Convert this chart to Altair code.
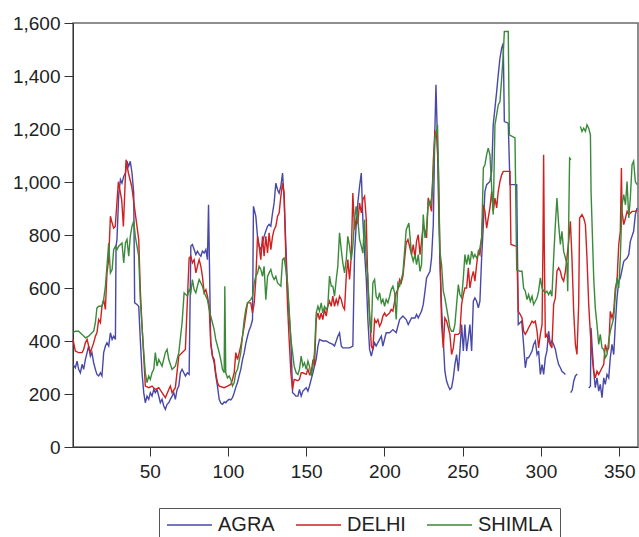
import altair as alt
import pandas as pd

cities = ["AGRA", "DELHI", "SHIMLA"]
colors = ["#4848a8", "#d02020", "#3a8a3a"]
x_ticks = [50, 100, 150, 200, 250, 300, 350]
y_ticks = [0, 200, 400, 600, 800, 1000, 1200, 1400, 1600]

# None marks a break in the series (missing observations)
agra_day = [1.0, 2.5, 3.6, 4.6, 5.7, 6.8, 7.8, 8.9, 10.0, 11.0, 12.1, 13.1, 14.2, 15.3, 16.3, 17.4, 18.5, 19.5,
            20.6, 21.7, 22.7, 23.8, 24.9, 26.0, 27.0, 28.1, 28.5, 29.1, 30.2, 31.3, 32.3, 33.4, 34.5, 35.5, 36.6,
            37.6, 38.7, 39.8, 40.4, 41.9, 43.0, 44.0, 45.1, 46.2, 47.2, 48.3, 49.4, 50.4, 51.5, 52.6, 53.6, 54.7,
            55.8, 56.8, 57.9, 59.0, 60.0, 61.1, 62.2, 63.2, 64.3, 65.4, 66.4, 67.5, 68.6, 69.6, 70.7, 71.8, 72.8,
            74.1, 75.2, 76.3, 77.3, 78.4, 79.5, 80.5, 81.6, 82.7, 83.7, 84.8, 85.9, 86.9, 87.6, 88.6, 89.0, 90.1,
            91.2, 92.2, 93.3, 94.4, 95.5, 96.5, 97.6, 98.6, 99.7, 100.8, 101.8, 102.9, 104.0, 105.0, 106.1, 107.2,
            108.2, 109.3, 110.4, 111.4, 112.5, 113.5, 114.6, 115.7, 116.3, 117.8, 118.9, 119.9, 121.0, 122.1, 123.1,
            124.2, 125.3, 126.3, 127.4, 128.5, 129.5, 130.6, 131.7, 132.7, 133.8, 134.9, 135.9, 137.0, 138.1, 139.1,
            140.2, 141.3, 142.3, 143.4, 144.7, 145.7, 146.8, 147.9, 148.9, 150.0, 151.1, 152.1, 153.2, 154.3, 155.3,
            156.4, 157.5, 158.5, 160.6, 162.8, 164.9, 167.0, 168.1, 169.2, 170.2, 171.3, 172.4, 173.4, 175.6, 177.7,
            179.8, 180.9, 181.9, 183.0, 184.1, 185.2, 186.2, 187.3, 188.4, 189.4, 190.5, 191.6, 192.6, 193.7, 194.7,
            196.9, 198.0, 199.0, 201.1, 203.3, 205.4, 207.5, 209.7, 211.8, 213.9, 215.2, 217.3, 219.5, 220.5, 221.6,
            223.7, 224.8, 225.9, 226.9, 229.1, 230.1, 231.2, 232.2, 232.9, 233.7, 234.4, 235.4, 236.5, 237.6, 238.6,
            239.7, 240.8, 241.8, 242.9, 244.0, 245.0, 246.1, 247.2, 248.2, 249.3, 250.4, 251.4, 252.5, 253.6, 254.6,
            255.7, 256.8, 257.8, 258.9, 260.0, 261.0, 262.1, 263.2, 264.2, 265.3, 267.4, 268.5, 269.5, 270.6, 271.7,
            272.7, 273.8, 274.9, 275.9, 276.6, 279.1, 280.2, 284.5, 285.5, 287.7, 288.9, 290.0, 291.1, 292.1, 293.2,
            294.3, 295.3, 296.4, 297.5, 298.5, 299.6, 300.7, 301.7, 302.8, 303.8, 304.9, 306.0, 307.0, 308.1, 309.2,
            310.2, 311.3, 312.4, 313.4, 314.5, 315.6, None, 319.0, 320.0, 321.0, 322.0, 323.2, None, 330.5, 331.6,
            332.0, 332.6, 333.7, 334.7, 335.8, 336.9, 337.9, 339.0, 340.1, 341.1, 342.2, 343.3, 344.3, 345.4, 346.5,
            347.5, 348.6, 349.7, 350.7, 352.9, 355.0, 356.1, 357.1, 359.2, 360.3, 361.4]
agra_val = [312, 299, 324, 293, 280, 312, 293, 330, 356, 381, 343, 356, 318, 293, 274, 268, 280, 268,
            356, 381, 393, 381, 431, 406, 418, 406, 757, 783, 950, 1009, 996, 1021, 1034, 1078, 1059,
            1078, 1034, 958, 544, 538, 531, 406, 280, 205, 167, 192, 180, 205, 192, 217, 205, 217,
            192, 167, 180, 155, 142, 161, 167, 180, 192, 205, 180, 217, 230, 280, 293, 280, 268,
            280, 274, 758, 764, 745, 726, 739, 728, 720, 739, 732, 745, 707, 914, 531, 393, 343,
            318, 270, 230, 180, 165, 161, 170, 167, 175, 180, 178, 186, 205, 225, 243, 270,
            293, 330, 356, 390, 418, 440, 456, 481, 908, 871, 795, 758, 745, 770, 795,
            815, 833, 840, 833, 883, 921, 996, 971, 958, 984, 1034, 933, 760, 594, 500,
            406, 205, 200, 192, 192, 217, 192, 211, 217, 224, 211, 230, 255, 280, 305,
            331, 381, 406, 400, 400, 393, 387, 381, 400, 418, 431, 381, 374, 374, 374,
            381, 732, 833, 921, 984, 1034, 858, 732, 632, 481, 368, 343, 368, 393, 381,
            406, 418, 381, 431, 431, 443, 431, 481, 494, 481, 462, 487, 487, 500, 487,
            513, 538, 588, 638, 663, 714, 839, 1191, 1367, 1191, 965, 714, 525, 400, 286,
            249, 230, 217, 224, 261, 311, 349, 286, 362, 462, 362, 462, 362, 412, 462,
            362, 550, 563, 550, 525, 550, 714, 839, 965, 990, 1002, 1040, 1216, 1279, 1341,
            1404, 1467, 1505, 1524, 1228, 1222, 990, 990, 462, 475, 387, 299, 337, 337, 349,
            362, 387, 400, 349, 362, 274, 311, 274, 337, 362, 437, 387, 400, 387, 368,
            337, 311, 299, 286, 280, 274, None, 205, 215, 250, 268, 276, None, 223, 229,
            450, 387, 286, 224, 261, 211, 236, 186, 261, 236, 274, 261, 337, 387, 349,
            462, 563, 626, 638, 701, 713, 726, 776, 814, 877, 902]

delhi_day = [1.0, 2.5, 4.6, 6.8, 7.8, 8.9, 10.0, 11.0, 12.1, 13.1, 14.2, 15.3, 16.3, 17.4, 18.5, 19.5, 20.6,
             21.7, 22.7, 23.8, 24.9, 26.0, 27.0, 28.0, 30.0, 32.1, 33.2, 34.9, 36.4, 38.5, 40.6, 43.0, 44.0,
             45.1, 46.2, 47.2, 49.4, 51.5, 53.6, 55.8, 57.9, 60.0, 62.2, 63.2, 64.3, 66.4, 68.6, 70.7, 72.8,
             74.1, 75.2, 76.3, 77.3, 78.4, 79.5, 80.5, 81.6, 82.7, 83.7, 84.8, 85.9, 86.9, 88.0, 89.0, 90.1,
             91.2, 92.2, 93.3, 94.4, 97.6, 99.7, 101.8, 102.9, 104.0, 105.0, 106.1, 107.2, 108.2, 110.4, 112.5,
             114.6, 115.7, 116.8, 117.8, 118.9, 119.9, 121.0, 122.1, 123.1, 124.2, 125.3, 126.3, 127.4, 128.5,
             129.5, 130.6, 131.7, 132.7, 133.8, 134.9, 135.9, 137.0, 138.1, 139.1, 140.2, 141.3, 142.3, 144.6,
             145.7, 146.8, 147.9, 150.0, 151.1, 152.1, 153.2, 154.3, 155.3, 156.4, 157.5, 158.5, 159.6, 160.6,
             161.7, 162.8, 163.8, 164.9, 166.0, 167.0, 168.1, 169.2, 170.2, 171.3, 172.4, 173.4, 174.5, 175.6,
             176.6, 177.7, 178.8, 179.8, 180.9, 181.9, 183.0, 184.1, 185.2, 186.2, 187.3, 188.4, 189.4, 190.5,
             191.6, 192.6, 193.7, 194.7, 195.8, 196.9, 198.0, 199.0, 200.1, 201.1, 203.3, 204.3, 205.4, 206.5,
             207.5, 208.6, 209.7, 210.7, 211.8, 213.9, 215.0, 216.3, 217.3, 218.4, 219.5, 220.5, 221.6, 222.7,
             223.7, 224.8, 225.9, 226.9, 228.0, 229.1, 230.1, 231.2, 232.2, 233.3, 234.4, 235.4, 236.5, 237.6,
             238.6, 239.7, 240.8, 241.8, 242.9, 244.0, 245.0, 247.2, 248.2, 249.3, 250.4, 251.4, 252.5, 253.6,
             254.6, 255.7, 256.8, 257.8, 258.9, 260.0, 261.0, 262.1, 263.2, 264.2, 265.3, 266.3, 267.4, 268.5,
             269.5, 270.6, 271.7, 272.7, 273.8, 274.9, 275.9, 280.2, 280.8, 284.5, 285.5, 286.8, 287.9, 288.9,
             290.0, 291.1, 292.1, 293.2, 294.3, 295.3, 296.4, 297.5, 298.5, 299.6, 300.7, 301.3, 301.7, 302.1,
             302.8, 303.8, 304.9, 306.0, 307.0, 308.1, 309.2, 310.2, 311.3, 312.4, 313.4, 314.5, 315.6, 316.6,
             317.7, 318.8, 319.8, 320.9, 322.0, 323.0, 324.1, 324.7, 326.2, 327.3, 328.4, 329.4, 330.5, 331.6,
             332.6, 333.7, 334.7, 335.8, 336.9, 337.9, 339.0, 340.1, 341.1, 342.2, 343.3, 344.3, 345.4, 346.5,
             347.5, 348.6, 349.7, 350.7, 351.4, 351.8, 352.9, 354.0, 355.0, 356.1, 358.2, 360.3, 361.4]
delhi_val = [406, 362, 356, 356, 368, 393, 406, 381, 356, 374, 393, 418, 431, 481, 469, 531, 556,
             519, 657, 707, 871, 845, 826, 832, 1001, 933, 832, 1084, 1034, 984, 890, 783, 594,
             456, 343, 230, 224, 230, 217, 224, 205, 186, 217, 230, 205, 224, 343, 356, 368,
             556, 713, 720, 695, 707, 657, 682, 707, 682, 644, 582, 594, 569, 531, 393, 343,
             330, 280, 243, 230, 224, 230, 236, 255, 280, 356, 330, 356, 381, 456, 544,
             544, 506, 544, 632, 795, 758, 707, 795, 720, 795, 732, 808, 745, 795,
             820, 833, 871, 883, 946, 996, 958, 720, 531, 406, 280, 217, 255, 250,
             255, 280, 280, 274, 293, 274, 280, 330, 305, 481, 506, 481, 506, 481,
             519, 494, 531, 550, 531, 569, 531, 557, 538, 569, 557, 531, 519, 645,
             707, 632, 720, 958, 820, 858, 845, 921, 883, 933, 946, 858, 607, 506,
             381, 368, 481, 469, 481, 456, 469, 494, 506, 494, 506, 519, 513, 550,
             582, 594, 632, 619, 645, 770, 783, 751, 726, 764, 714, 776, 801, 726,
             776, 839, 814, 789, 940, 914, 889, 1078, 1191, 1178, 1065, 739, 462, 374,
             487, 475, 450, 425, 349, 374, 425, 425, 431, 538, 575, 600, 600, 676,
             600, 638, 663, 626, 688, 739, 726, 789, 914, 889, 826, 864, 902, 965,
             889, 939, 902, 965, 1002, 1027, 1040, 1040, 764, 757, 512, 500, 487, 437,
             425, 437, 450, 462, 475, 469, 475, 437, 374, 425, 462, 776, 1103, 776,
             412, 425, 400, 387, 374, 538, 563, 663, 676, 663, 638, 626, 663, 714,
             776, 852, 714, 512, 387, 349, 538, 864, 877, 864, 839, 714, 538, 425,
             349, 286, 261, 286, 274, 286, 299, 311, 387, 362, 374, 512, 487, 512,
             600, 626, 764, 814, 1053, 889, 839, 864, 889, 877, 889, 889, 895]

shimla_day = [1.0, 2.5, 4.6, 6.8, 8.9, 11.0, 13.1, 14.2, 15.3, 16.3, 17.4, 19.5, 20.6, 21.7, 22.7, 23.8, 24.9,
              26.0, 27.0, 28.1, 29.1, 30.2, 32.3, 33.4, 34.5, 35.5, 36.6, 37.6, 38.7, 39.8, 40.8, 43.0, 44.0,
              45.1, 46.2, 47.2, 48.3, 49.4, 50.4, 51.5, 52.6, 53.6, 54.7, 55.8, 57.9, 60.0, 61.1, 62.2, 64.3,
              66.4, 68.6, 70.7, 72.0, 74.1, 75.2, 76.3, 77.3, 78.4, 79.5, 80.5, 81.6, 82.7, 83.7, 84.8, 85.9,
              86.9, 88.0, 89.0, 90.1, 91.2, 92.2, 93.3, 94.4, 95.4, 96.5, 97.6, 98.0, 98.6, 99.7, 100.8, 101.8,
              102.9, 104.0, 105.0, 106.1, 108.2, 109.3, 110.4, 111.4, 112.5, 114.6, 115.7, 116.8, 117.8, 118.9,
              119.9, 121.0, 122.1, 123.1, 124.2, 125.3, 126.3, 127.4, 128.5, 129.5, 130.6, 131.7, 133.8, 134.9,
              135.9, 137.0, 138.1, 139.1, 140.2, 141.3, 142.3, 143.6, 144.7, 145.7, 146.8, 147.9, 148.9, 150.0,
              151.1, 152.1, 153.2, 154.3, 155.3, 156.4, 157.5, 158.5, 159.6, 160.6, 161.7, 162.8, 163.8, 164.9,
              166.0, 167.0, 168.1, 169.2, 170.2, 171.3, 172.4, 173.4, 174.5, 175.6, 176.6, 177.7, 178.8, 179.8,
              180.9, 181.9, 183.0, 184.1, 185.2, 186.2, 187.3, 188.4, 189.4, 190.5, 191.6, 192.6, 193.7, 194.7,
              195.8, 196.9, 198.0, 199.0, 200.1, 201.1, 202.2, 203.3, 204.3, 205.4, 206.5, 207.5, 208.6, 209.7,
              211.8, 213.9, 215.6, 217.3, 218.4, 219.5, 220.5, 221.6, 222.7, 223.7, 224.8, 225.9, 226.9, 228.0,
              229.1, 230.1, 231.2, 232.2, 233.3, 233.9, 234.8, 235.4, 236.5, 237.6, 238.6, 239.7, 240.8, 241.8,
              242.9, 244.0, 245.0, 246.1, 247.2, 248.2, 249.3, 250.4, 251.4, 252.5, 253.6, 254.6, 255.7, 256.8,
              257.8, 258.9, 260.0, 261.0, 262.1, 263.2, 264.2, 265.3, 266.3, 267.4, 268.5, 269.5, 270.6, 271.7,
              272.7, 273.8, 274.9, 275.9, 276.6, 279.1, 279.8, 283.4, 284.5, 286.6, 287.9, 288.9, 290.0, 291.1,
              292.1, 293.2, 294.3, 295.3, 296.4, 297.5, 298.5, 299.6, 300.7, 301.7, 302.8, 303.8, 304.9, 306.0,
              307.0, 308.1, 309.2, 310.2, 311.3, 312.4, 313.4, 314.5, 315.6, 316.6, 317.1, 318.3, 319.2, None,
              325.2, 326.2, 327.3, 328.4, 329.4, 330.5, 331.6, 332.0, 333.7, 334.7, 335.8, 336.9, 337.9, 339.0,
              340.1, 341.1, 342.2, 343.3, 344.3, 345.4, 346.5, 347.5, 348.6, 349.7, 350.7, 351.8, 352.9, 354.0,
              355.0, 356.1, 357.1, 358.2, 359.2, 360.3, 361.4]
shimla_val = [431, 437, 437, 425, 412, 418, 431, 437, 469, 525, 531, 531, 556, 607, 682, 770, 657,
              670, 745, 758, 745, 758, 770, 695, 770, 783, 720, 795, 833, 852, 795, 720, 556,
              456, 356, 280, 243, 268, 255, 280, 293, 356, 305, 330, 305, 356, 368, 330, 293,
              305, 356, 469, 582, 569, 594, 582, 632, 594, 582, 607, 632, 619, 607, 582, 569,
              556, 519, 494, 469, 443, 406, 381, 356, 330, 293, 280, 607, 280, 261, 268, 255,
              230, 243, 280, 293, 356, 418, 481, 519, 544, 556, 569, 619, 644, 657,
              682, 670, 644, 682, 556, 644, 657, 670, 644, 632, 644, 619, 607, 707,
              713, 670, 619, 519, 406, 356, 305, 280, 274, 293, 343, 305, 318, 293,
              324, 305, 268, 305, 356, 506, 531, 513, 544, 506, 531, 519, 531, 645,
              607, 607, 569, 632, 682, 808, 745, 695, 657, 707, 795, 758, 707, 758,
              858, 908, 858, 783, 758, 732, 858, 695, 645, 481, 431, 619, 632, 569,
              557, 582, 544, 557, 531, 557, 544, 569, 594, 607, 582, 481, 619, 607,
              657, 820, 845, 726, 701, 726, 688, 726, 663, 688, 877, 789, 827, 927,
              914, 939, 1028, 1166, 1191, 1216, 965, 739, 688, 588, 563, 525, 487, 450,
              437, 437, 462, 538, 613, 575, 563, 638, 726, 688, 726, 688, 739, 714,
              726, 714, 726, 751, 789, 1053, 1065, 1103, 1128, 1103, 980, 877, 1216, 1254,
              1291, 1304, 1392, 1480, 1568, 1568, 1178, 1166, 669, 663, 663, 600, 588, 556,
              575, 550, 569, 538, 550, 563, 588, 638, 600, 588, 582, 588, 575, 588,
              569, 714, 839, 939, 839, 764, 814, 738, 714, 688, 588, 1090, 1084, None,
              1210, 1191, 1203, 1191, 1216, 1203, 1178, 965, 638, 525, 462, 387, 425, 374,
              368, 337, 349, 400, 437, 462, 487, 575, 638, 600, 714, 914, 952, 914,
              1002, 864, 939, 1065, 1078, 1002, 990]


def to_rows(name, days, vals):
    rows, seg = [], 0
    for d, v in zip(days, vals):
        if d is None or v is None:
            seg += 1
            continue
        rows.append({"day": d, "price": v, "city": name, "seg": f"{name}-{seg}"})
    return rows


df = pd.DataFrame(
    to_rows("AGRA", agra_day, agra_val)
    + to_rows("DELHI", delhi_day, delhi_val)
    + to_rows("SHIMLA", shimla_day, shimla_val)
)

FONT = "Liberation Sans"

chart = (
    alt.Chart(df)
    .mark_line(strokeWidth=1.4)
    .encode(
        x=alt.X(
            "day:Q",
            scale=alt.Scale(domain=[1, 362], nice=False, zero=False),
            axis=alt.Axis(values=x_ticks, title=None, format="d", tickSize=9, labelPadding=6,
                          grid=False, labelFlush=False),
        ),
        y=alt.Y(
            "price:Q",
            scale=alt.Scale(domain=[0, 1600], nice=False),
            axis=alt.Axis(values=y_ticks, title=None, format=",.0f", tickSize=9, labelPadding=4,
                          grid=False),
        ),
        color=alt.Color(
            "city:N",
            scale=alt.Scale(domain=cities, range=colors),
            legend=alt.Legend(
                title=None, orient="none", legendX=86, legendY=485, direction="horizontal",
                symbolType="stroke", symbolSize=2025, symbolStrokeWidth=1.5, clipHeight=20,
                labelFontSize=20, labelFont=FONT, labelColor="#222", labelOffset=5,
                columnPadding=20, padding=7, strokeColor="#555", fillColor="white",
            ),
        ),
        detail="seg:N",
    )
    .properties(
        width=565, height=424,
        autosize=alt.AutoSizeParams(type="none"),
        padding={"left": 73, "top": 23, "right": 1, "bottom": 90},
    )
    .configure_view(stroke="#6a6a6a", strokeWidth=1.5)
    .configure_axis(domainColor="#333", tickColor="#333", labelColor="#222",
                    labelFont=FONT, labelFontSize=19, domainWidth=1, tickWidth=1)
)

chart.save("out.html", embed_options={"renderer": "svg", "actions": False})
